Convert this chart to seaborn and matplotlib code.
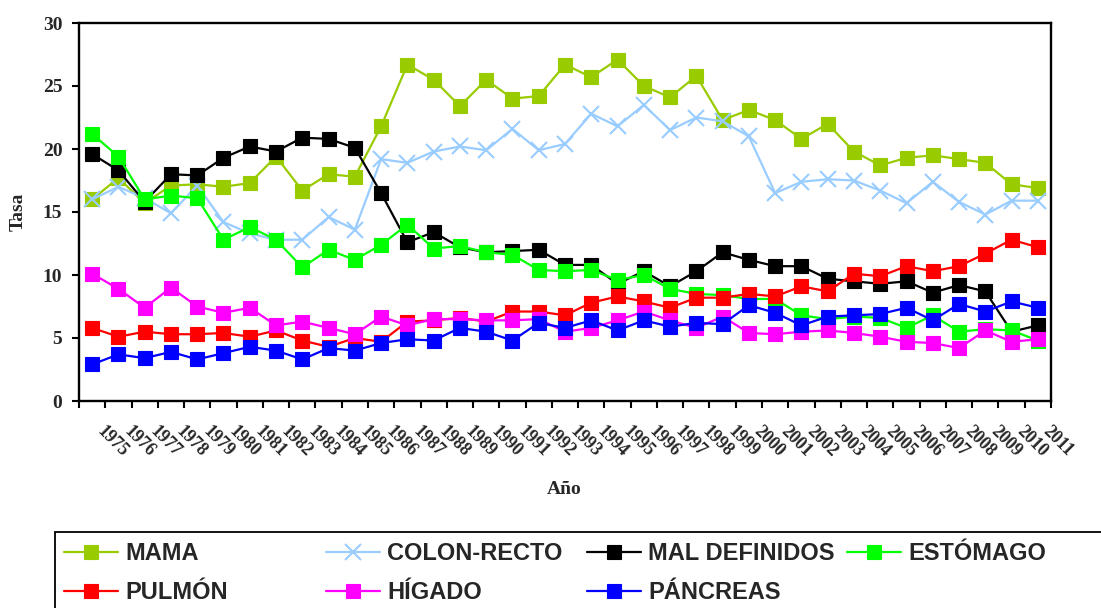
import numpy as np
import pandas as pd
import matplotlib
matplotlib.use("Agg")
import matplotlib.pyplot as plt
import matplotlib.transforms as mtransforms
from matplotlib.patches import Rectangle
import seaborn as sns

# Data (rates per year)
years = list(range(1975, 2012))
mama = [16.0, 17.7, 15.7, 17.1, 17.2, 17.0, 17.3, 19.4, 16.7, 18.0,
        17.8, 21.8, 26.7, 25.5, 23.4, 25.5, 24.0, 24.2, 26.7, 25.7,
        27.1, 25.0, 24.1, 25.8, 22.3, 23.1, 22.3, 20.8, 22.0, 19.8, 18.7,
        19.3, 19.5, 19.2, 18.9, 17.2, 16.9]
colon_recto = [16.0, 17.0, 16.1, 14.9, 17.1, 14.2, 13.3, 12.8, 12.8, 14.6,
               13.6, 19.2, 18.9, 19.8, 20.2, 19.9, 21.6, 19.9, 20.4, 22.8,
               21.8, 23.5, 21.5, 22.5, 22.2, 21.0, 16.5, 17.4, 17.6, 17.5, 16.7,
               15.7, 17.4, 15.8, 14.8, 15.9, 15.9]
mal_definidos = [19.6, 18.3, 15.8, 18.0, 17.9, 19.3, 20.2, 19.8, 20.9, 20.8,
                 20.1, 16.5, 12.6, 13.4, 12.2, 11.8, 11.9, 12.0, 10.8, 10.8,
                 9.3, 10.3, 9.1, 10.3, 11.8, 11.2, 10.7, 10.7, 9.7, 9.5, 9.3,
                 9.5, 8.6, 9.2, 8.7, 5.5, 6.0]
estomago = [21.2, 19.4, 16.0, 16.3, 16.1, 12.8, 13.8, 12.8, 10.6, 12.0,
            11.2, 12.4, 14.0, 12.1, 12.3, 11.8, 11.6, 10.4, 10.3, 10.4,
            9.6, 10.0, 8.9, 8.5, 8.4, 8.1, 8.1, 6.8, 6.5, 6.7, 6.6,
            5.8, 6.8, 5.5, 5.7, 5.6, 4.8]
pulmon = [5.8, 5.1, 5.5, 5.3, 5.3, 5.4, 5.1, 5.6, 4.8, 4.3,
          5.0, 4.7, 6.3, 6.4, 6.6, 6.3, 7.1, 7.1, 6.8, 7.8,
          8.3, 7.9, 7.4, 8.2, 8.2, 8.5, 8.3, 9.1, 8.7, 10.1, 9.9,
          10.7, 10.3, 10.7, 11.7, 12.8, 12.2]
higado = [10.1, 8.9, 7.4, 9.0, 7.5, 7.0, 7.4, 6.0, 6.3, 5.8,
          5.3, 6.7, 6.0, 6.5, 6.5, 6.4, 6.4, 6.5, 5.5, 5.8,
          6.4, 7.1, 6.4, 5.8, 6.7, 5.4, 5.3, 5.5, 5.6, 5.4, 5.1,
          4.7, 4.6, 4.2, 5.6, 4.7, 4.9]
pancreas = [2.9, 3.7, 3.4, 3.9, 3.3, 3.8, 4.3, 4.0, 3.3, 4.2,
            4.0, 4.6, 4.9, 4.8, 5.8, 5.5, 4.8, 6.2, 5.8, 6.4,
            5.6, 6.4, 5.9, 6.2, 6.1, 7.6, 7.0, 6.0, 6.7, 6.8, 6.9,
            7.4, 6.4, 7.7, 7.1, 7.9, 7.4]

series_names = ["MAMA", "COLON-RECTO", "MAL DEFINIDOS", "ESTÓMAGO",
                "PULMÓN", "HÍGADO", "PÁNCREAS"]
series_values = [mama, colon_recto, mal_definidos, estomago,
                 pulmon, higado, pancreas]
series_colors = ["#99CC00", "#99CCFF", "#000000", "#00FF00",
                 "#FF0000", "#FF00FF", "#0000FF"]
series_markers = ["s", "x", "s", "s", "s", "s", "s"]

sns.set_theme(style="white")
plt.rcParams["font.family"] = ["Liberation Serif", "DejaVu Serif"]

fig = plt.figure(figsize=(11.01, 6.08), dpi=100)
ax = fig.add_axes([79 / 1101, 1 - 401 / 608, 972 / 1101, 378 / 608])

x_pos = np.arange(len(years))
handles = []
for name, vals, col, mk in zip(series_names, series_values, series_colors, series_markers):
    df = pd.DataFrame({"x": x_pos, "y": vals})
    if mk == "x":
        kw = dict(markersize=11.5, markeredgewidth=1.5)
    else:
        kw = dict(markersize=9.7, markeredgewidth=0.8)
    sns.lineplot(data=df, x="x", y="y", ax=ax, color=col, marker=mk,
                 markeredgecolor=col, linewidth=1.6, label=name, **kw)
    handles.append(ax.get_lines()[-1])
ax.get_legend().remove()

# axes
ax.set_xlim(-0.5, len(years) - 0.5)
ax.set_ylim(0, 30)
ax.set_yticks(range(0, 31, 5))
for sp in ax.spines.values():
    sp.set_visible(True)
    sp.set_color("black")
    sp.set_linewidth(1.7)

ax.tick_params(axis="y", which="major", direction="out", length=5, width=1.5,
               color="black", pad=7, labelsize=14, left=True)
for lbl in ax.get_yticklabels():
    lbl.set_fontweight("bold")

ax.set_xticks(x_pos)
ax.set_xticklabels([str(y) for y in years], rotation=-45, ha="left", va="top",
                   rotation_mode="anchor", fontsize=13, fontweight="bold")
ax.set_xticks(np.arange(-0.5, len(years)), minor=True)
ax.tick_params(axis="x", which="major", length=0, pad=16)
ax.tick_params(axis="x", which="minor", direction="out", length=5, width=1.5,
               color="black", bottom=True)
offset = mtransforms.ScaledTranslation(0.14, 0, fig.dpi_scale_trans)
for lbl in ax.get_xticklabels():
    lbl.set_transform(lbl.get_transform() + offset)

ax.set_xlabel("Año", fontsize=14, fontweight="bold")
ax.xaxis.set_label_coords((564 - 79) / 972, (401 - 490) / 378)
ax.xaxis.label.set_va("center")
ax.set_ylabel("Tasa", fontsize=14, fontweight="bold")
ax.yaxis.set_label_coords((18 - 79) / 972, 0.5)
ax.yaxis.label.set_va("center")
ax.grid(False)

# legend box and columns
fig.patches.append(Rectangle((55 / 1101, -0.1), 1.1, 0.1 + (1 - 532 / 608),
                             transform=fig.transFigure, fill=False,
                             edgecolor="black", linewidth=1.3, clip_on=False))
col_x = [64, 326, 587, 847]
for i, cx in enumerate(col_x):
    hs = [handles[j] for j in (i, i + 4) if j < len(handles)]
    fig.legend(handles=hs, labels=[h.get_label() for h in hs],
               loc="upper left", bbox_to_anchor=(cx / 1101, 1 - 542 / 608),
               frameon=False, borderpad=0, borderaxespad=0,
               handlelength=2.3, handletextpad=0.3, labelspacing=0.68,
               prop={"family": "Liberation Sans", "weight": "bold", "size": 17})

fig.savefig("out.png", dpi=100)
